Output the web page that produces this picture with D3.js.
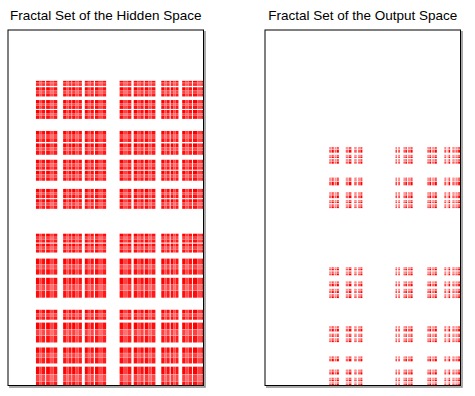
<!DOCTYPE html>
<html>
<head>
<meta charset="utf-8">
<script src="https://cdn.jsdelivr.net/npm/d3@7/dist/d3.min.js"></script>
<style>
  body { margin: 0; background: #fff; }
  text { font-family: "Liberation Sans", Arial, sans-serif; }
</style>
</head>
<body>
<div id="chart"></div>
<script>
// panel titles
var titles = ["Fractal Set of the Hidden Space", "Fractal Set of the Output Space"];

// strips of the hidden-space set, as fractions of the panel
var hiddenCols = [[0.143,0.190],[0.195,0.252],[0.282,0.325],[0.328,0.378],[0.393,0.439],[0.445,0.502],
  [0.571,0.631],[0.643,0.694],[0.699,0.754],[0.784,0.827],[0.832,0.872],[0.891,0.941],[0.946,1.01]];
var hiddenRows = [[0.143,0.157],[0.161,0.187],[0.197,0.222],[0.225,0.250],[0.284,0.315],[0.319,0.351],
  [0.365,0.393],[0.396,0.424],[0.447,0.473],[0.476,0.503],[0.573,0.598],[0.601,0.626],[0.643,0.688],
  [0.697,0.753],[0.787,0.815],[0.823,0.879],[0.893,0.938],[0.947,1.01]];
// finer level inside each strip: relative extent and point density
var hiddenSub = [[0,0.34,1],[0.355,0.645,0.75],[0.66,1,0.95]];

// strips of the output-space set
var outputCols = [[0.328,0.352],[0.356,0.378],[0.413,0.442],[0.456,0.468],[0.476,0.498],[0.667,0.675],
  [0.680,0.689],[0.708,0.726],[0.731,0.755],[0.830,0.850],[0.855,0.879],[0.917,0.927],[0.934,0.947],
  [0.958,0.969],[0.974,1.0]];
var outputRows = [[0.329,0.345],[0.351,0.360],[0.363,0.376],[0.415,0.437],[0.456,0.473],[0.478,0.487],
  [0.490,0.501],[0.667,0.676],[0.679,0.690],[0.707,0.721],[0.728,0.740],[0.743,0.754],[0.833,0.848],
  [0.854,0.863],[0.867,0.878],[0.918,0.932],[0.955,0.969],[0.978,0.988],[0.991,1.0]];
var outputSub = [[0,0.46,0.65],[0.54,1,1]];

var svgWidth = 475;
var svgHeight = 396;
var panelTop = 30;
var panelBottom = 385.5;
var panelWidth = 195.5;
var panelLefts = [8, 265];

var panels = [
  {cols: hiddenCols, rows: hiddenRows, sub: hiddenSub},
  {cols: outputCols, rows: outputRows, sub: outputSub}
];

var svg = d3.select("#chart").append("svg")
      .attr("width", svgWidth)
      .attr("height", svgHeight);

panels.forEach(function(p, i){
    var left = panelLefts[i];

    var xScale = d3.scaleLinear().domain([0, 1]).range([left, left + panelWidth]);
    var yScale = d3.scaleLinear().domain([0, 1]).range([panelTop, panelBottom]);
    var opacity = d3.scaleLinear().domain([0, 1]).range([0, 1]);

    svg.append("clipPath")
      .attr("id", "clip" + i)
      .append("rect")
      .attr("x", left)
      .attr("y", panelTop)
      .attr("width", panelWidth)
      .attr("height", panelBottom - panelTop);

    // split every strip into its finer parts
    function split(strips){
      var out = [];
      strips.forEach(function(s){
        p.sub.forEach(function(q){
          out.push({a: s[0] + q[0] * (s[1] - s[0]), b: s[0] + q[1] * (s[1] - s[0]), w: q[2]});
        });
      });
      return out;
    }
    var cols = split(p.cols);
    var rows = split(p.rows);

    var cells = [];
    cols.forEach(function(c){
      rows.forEach(function(r){
        cells.push({x0: c.a, x1: c.b, y0: r.a, y1: r.b, w: c.w * r.w});
      });
    });

    var chartGroup = svg.append("g")
      .attr("clip-path", "url(#clip" + i + ")");

    chartGroup.selectAll("rect")
      .data(cells)
      .enter()
      .append("rect")
      .attr("x", d => xScale(d.x0))
      .attr("y", d => yScale(d.y0))
      .attr("width", d => xScale(d.x1) - xScale(d.x0))
      .attr("height", d => yScale(d.y1) - yScale(d.y0))
      .attr("fill", "red")
      .attr("fill-opacity", d => opacity(d.w));

    // shadow on the right and bottom
    svg.append("path")
      .attr("d", "M" + (left + panelWidth + 1.5) + "," + (panelTop + 1) +
                 "V" + (panelBottom + 1.5) + "H" + (left + 1))
      .attr("fill", "none")
      .attr("stroke", "#8c8c8c")
      .attr("stroke-width", 1.5);

    // box
    svg.append("rect")
      .attr("x", left)
      .attr("y", panelTop)
      .attr("width", panelWidth)
      .attr("height", panelBottom - panelTop)
      .attr("fill", "none")
      .attr("stroke", "black")
      .attr("stroke-width", 1);

    // title
    svg.append("text")
      .attr("x", left + panelWidth / 2)
      .attr("y", 20)
      .attr("text-anchor", "middle")
      .attr("font-size", "13.5px")
      .attr("fill", "black")
      .text(titles[i]);
});
</script>
</body>
</html>
